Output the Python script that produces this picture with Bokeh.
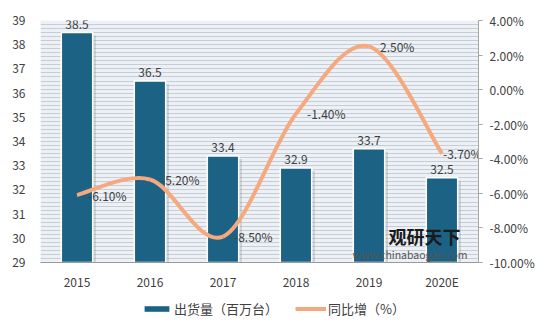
from bokeh.plotting import figure
from bokeh.layouts import column
from bokeh.models import (Range1d, LinearAxis, FixedTicker, SingleIntervalTicker,
                          PrintfTickFormatter, Legend, LegendItem, Label)
from bokeh.embed import file_html
from bokeh.resources import INLINE
from bokeh.core.properties import value

years = ["2015", "2016", "2017", "2018", "2019", "2020E"]
shipments = [38.5, 36.5, 33.4, 32.9, 33.7, 32.5]
growth = [-6.1, -5.2, -8.5, -1.4, 2.5, -3.7]
right_ticks = [-10, -8, -6, -4, -2, 0, 2, 4]
series_names = ["出货量（百万台）", "同比增（%）"]

BAR = "#1b6284"
LINE = "#f6a97f"
TXT = "#404040"
FONT = "Noto Sans CJK SC"

idx = list(range(len(years)))
n = len(years)

p = figure(width=550, height=292, output_backend="svg", toolbar_location=None,
           x_range=Range1d(-0.5, n - 0.5), y_range=Range1d(29, 39),
           min_border_left=40, min_border_right=72, min_border_top=20, min_border_bottom=27)
p.extra_y_ranges = {"pct": Range1d(-10, 4)}

p.border_fill_color = "white"
p.background_fill_color = "#edf1f5"
p.outline_line_color = None

# grid stripes
p.xgrid.visible = False
p.yaxis.ticker = SingleIntervalTicker(interval=1, num_minor_ticks=6)
p.ygrid.grid_line_color = "#c5ced7"
p.ygrid.minor_grid_line_color = "#c5ced7"
p.ygrid.grid_line_width = 1
p.ygrid.minor_grid_line_width = 1

# left axis
p.yaxis.axis_line_color = None
p.yaxis.major_tick_line_color = None
p.yaxis.minor_tick_line_color = None
p.yaxis.major_label_standoff = 9
p.yaxis.major_label_text_font = FONT
p.yaxis.major_label_text_font_size = "12px"
p.yaxis.major_label_text_color = TXT

# bottom axis
p.xaxis.ticker = FixedTicker(ticks=idx)
p.xaxis.major_label_overrides = {i: y for i, y in zip(idx, years)}
p.xaxis.axis_line_color = "#9a9a9a"
p.xaxis.major_tick_line_color = None
p.xaxis.minor_tick_line_color = None
p.xaxis.major_label_standoff = 4
p.xaxis.major_label_text_font = FONT
p.xaxis.major_label_text_font_size = "12px"
p.xaxis.major_label_text_color = TXT

# right axis
ra = LinearAxis(y_range_name="pct", ticker=FixedTicker(ticks=right_ticks),
                formatter=PrintfTickFormatter(format="%.2f%%"))
ra.axis_line_color = "#a6a6a6"
ra.major_tick_line_color = "#a6a6a6"
ra.major_tick_out = 4
ra.major_tick_in = 0
ra.minor_tick_line_color = None
ra.major_label_standoff = 7
ra.major_label_text_font = FONT
ra.major_label_text_font_size = "12px"
ra.major_label_text_color = TXT
p.add_layout(ra, "right")

# bar shadow + bars
p.vbar(x=[i + 0.04 for i in idx], top=[s - 0.12 for s in shipments], bottom=29, width=0.44,
       fill_color="#7a7a7a", fill_alpha=0.25, line_color=None)
p.vbar(x=idx, top=shipments, bottom=29, width=0.43, fill_color=BAR,
       line_color="white", line_width=1.5)

p.text(x=idx, y=shipments, text=[f"{s:.1f}" for s in shipments], text_align="center",
       text_baseline="bottom", y_offset=-4, text_font=value(FONT),
       text_font_size="12px", text_color=TXT)

# smooth growth line (Catmull-Rom style bezier through the data points)
x0, y0, x1, y1, cx0, cy0, cx1, cy1 = [], [], [], [], [], [], [], []
for i in range(n - 1):
    pa = max(i - 1, 0)
    pb = min(i + 2, n - 1)
    x0.append(idx[i]); y0.append(growth[i])
    x1.append(idx[i + 1]); y1.append(growth[i + 1])
    cx0.append(idx[i] + (idx[i + 1] - idx[pa]) / 6)
    cy0.append(growth[i] + (growth[i + 1] - growth[pa]) / 6)
    cx1.append(idx[i + 1] - (idx[pb] - idx[i]) / 6)
    cy1.append(growth[i + 1] - (growth[pb] - growth[i]) / 6)
p.bezier(x0=x0, y0=y0, x1=x1, y1=y1, cx0=cx0, cy0=cy0, cx1=cx1, cy1=cy1,
         line_color=LINE, line_width=4, y_range_name="pct")

# the last label must stay inside the plot frame, so it sits closer to its point
label_dx = [11 if i < n - 1 else 1 for i in idx]
p.text(x=idx, y=growth, text=[f"{g:.2f}%" for g in growth], text_align="left",
       text_baseline="middle", x_offset=label_dx, y_range_name="pct",
       text_font=value(FONT), text_font_size="12px", text_color=TXT)

# watermark (screen units relative to the plot frame's bottom-left)
p.add_layout(Label(x=348, y=14, x_units="screen", y_units="screen",
                   text="观研天下", text_font=FONT, text_font_size="18px",
                   text_font_style="bold", text_color="#1a1a1a"))
p.add_layout(Label(x=312, y=1, x_units="screen", y_units="screen",
                   text="www.chinabaogao.com", text_font=FONT, text_font_size="10.5px",
                   text_color="#555555"))

# legend strip below the chart
lg = figure(width=550, height=43, output_backend="svg", toolbar_location=None,
            x_range=Range1d(100, 101), y_range=Range1d(100, 101),
            x_axis_type=None, y_axis_type=None, min_border=0)
lg.xgrid.visible = False
lg.ygrid.visible = False
lg.outline_line_color = None
lg.background_fill_color = "white"
lg.border_fill_color = "white"
bar_proxy = lg.vbar(x=idx, top=shipments, bottom=29, width=0.43, fill_color=BAR,
                    line_color=None)
line_proxy = lg.line(x=idx, y=growth, line_color=LINE, line_width=4)

legend = Legend(items=[LegendItem(label=series_names[0], renderers=[bar_proxy]),
                       LegendItem(label=series_names[1], renderers=[line_proxy])],
                orientation="horizontal", location=(101, 17), margin=0, padding=5,
                spacing=17, glyph_width=31, glyph_height=7, label_standoff=2,
                label_text_font=FONT, label_text_font_size="13px", label_text_color=TXT,
                border_line_color=None, background_fill_color="white", background_fill_alpha=1)
lg.add_layout(legend, "center")

layout = column(p, lg, spacing=0)

open("out.html", "w").write(file_html(layout, INLINE))
